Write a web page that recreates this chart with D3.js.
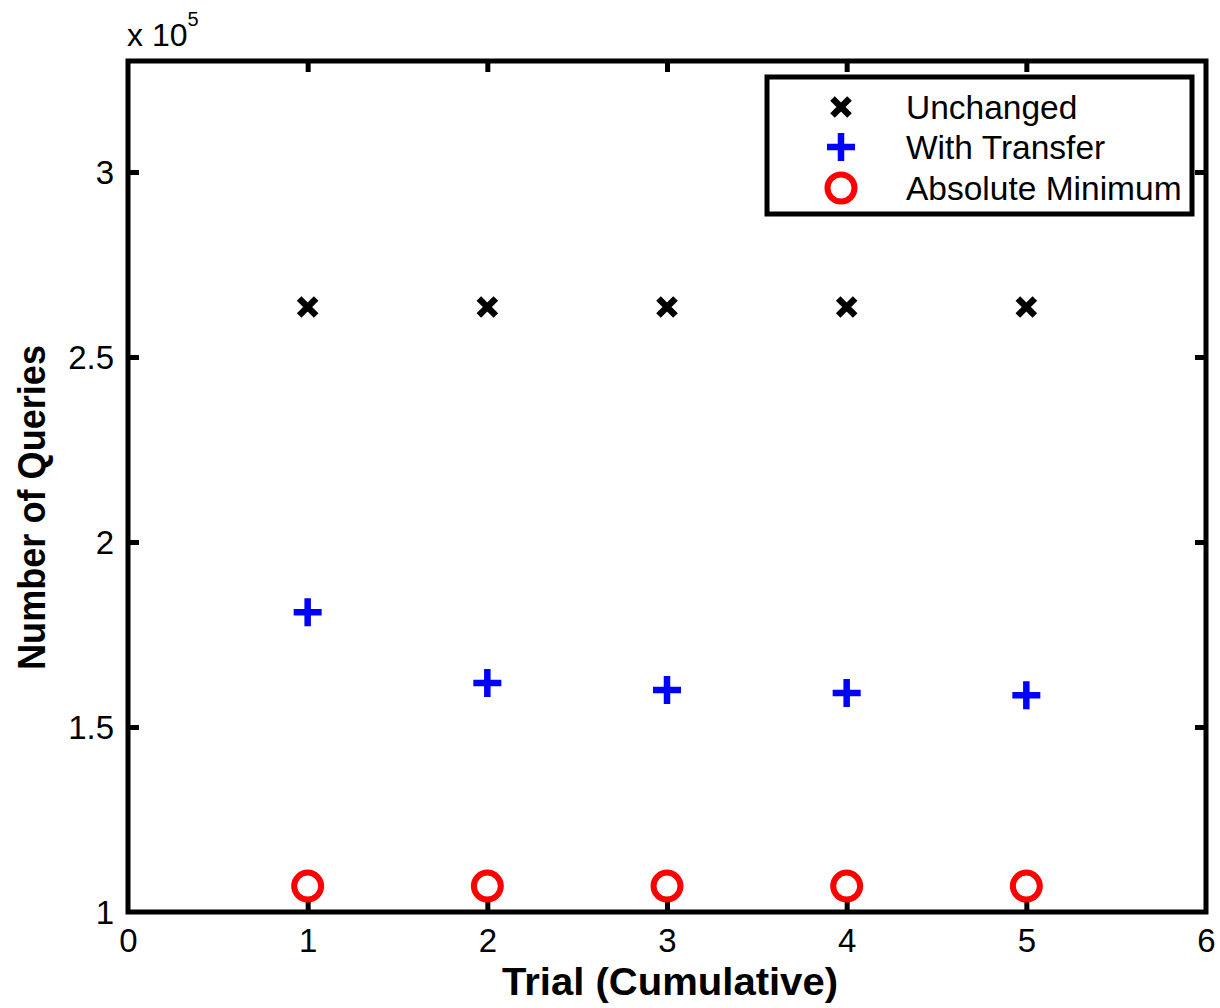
<!DOCTYPE html>
<html lang="en">
<meta charset="utf-8">
<title>Number of Queries</title>
<style>
    body { margin: 0; background: white; }
    text { font-family: "Liberation Sans", Arial, Helvetica, sans-serif; }
</style>
<body>
<svg id="canvas"></svg>
<script src="https://cdn.jsdelivr.net/npm/d3@7/dist/d3.min.js"></script>
<script>

    ///////////////////// data ////////////////////////
    var trials        = [1, 2, 3, 4, 5];
    var unchanged     = [263500, 263500, 263500, 263500, 263500];
    var with_transfer = [181000, 161900, 160000, 159200, 158600];
    var absolute_min  = [107000, 107000, 107000, 107000, 107000];
    var x_ticks       = [0, 1, 2, 3, 4, 5, 6];
    var y_ticks       = [100000, 150000, 200000, 250000, 300000];
    var legend_names  = ["Unchanged", "With Transfer", "Absolute Minimum"];
    ///////////////////////////////////////////////////

    ////////////// dimensions / styles ////////////////
    var width     = 1220, height = 1008;
    var plot_L    = 128, plot_R = 1206;
    var plot_T    = 61,  plot_B = 912;
    var axis_w    = 5;
    var tick_len  = 11;
    var font_size = 33;
    ///////////////////////////////////////////////////

    var svg = d3.select("#canvas")
        .attr('width', width)
        .attr('height', height);

    var x = d3.scaleLinear().domain([0, 6]).range([plot_L, plot_R]);
    var y = d3.scaleLinear().domain([100000, 330000]).range([plot_B, plot_T]);

    //////////////////// axes ////////////////////////
    function style_axis(g) {
        g.attr('font-size', null).attr('font-family', null);
        g.select('.domain').remove();
        g.selectAll('.tick line').attr('stroke', 'black').attr('stroke-width', axis_w);
        g.selectAll('.tick text')
            .attr('font-size', font_size)
            .attr('fill', 'black');
    }

    svg.append('g')
        .attr('transform', 'translate(0,' + plot_B + ')')
        .call(d3.axisBottom(x).tickValues(x_ticks).tickSize(-tick_len).tickPadding(0)
              .tickFormat(d3.format('d')))
        .call(style_axis)
        .selectAll('.tick text').attr('y', 40).attr('dy', null);

    svg.append('g')
        .attr('transform', 'translate(0,' + plot_T + ')')
        .call(d3.axisTop(x).tickValues(x_ticks).tickSize(-tick_len).tickFormat(''))
        .call(style_axis);

    svg.append('g')
        .attr('transform', 'translate(' + plot_L + ',0)')
        .call(d3.axisLeft(y).tickValues(y_ticks).tickSize(-tick_len).tickPadding(14)
              .tickFormat(function (d) { return d3.format('~g')(d / 1e5); }))
        .call(style_axis)
        .selectAll('.tick text').attr('dy', '0.36em');

    svg.append('g')
        .attr('transform', 'translate(' + plot_R + ',0)')
        .call(d3.axisRight(y).tickValues(y_ticks).tickSize(-tick_len).tickFormat(''))
        .call(style_axis);

    // hide ticks sitting on the frame corners
    svg.selectAll('.tick').filter(function (d) { return d === 0 || d === 6 || d === 100000; })
        .select('line').attr('stroke', 'none');

    // frame
    svg.append('rect')
        .attr('x', plot_L).attr('y', plot_T)
        .attr('width', plot_R - plot_L).attr('height', plot_B - plot_T)
        .attr('fill', 'none').attr('stroke', 'black').attr('stroke-width', axis_w);

    // exponent label
    var exp = svg.append('text')
        .attr('x', plot_L - 1).attr('y', 46)
        .attr('font-size', 32);
    exp.append('tspan').text('x 10');
    exp.append('tspan').attr('dy', -20).attr('font-size', 20).text('5');

    // axis titles
    svg.append('text')
        .attr('x', 502).attr('y', 995)
        .attr('textLength', 336).attr('lengthAdjust', 'spacingAndGlyphs')
        .attr('font-size', 38).attr('font-weight', 'bold')
        .text('Trial (Cumulative)');

    svg.append('text')
        .attr('transform', 'translate(45,670) rotate(-90)')
        .attr('textLength', 325).attr('lengthAdjust', 'spacingAndGlyphs')
        .attr('font-size', 39).attr('font-weight', 'bold')
        .text('Number of Queries');
    ///////////////////////////////////////////////////

    ////////////////// markers ////////////////////////
    function draw_x(g, cx, cy) {
        var s = 8.5;
        g.append('path')
            .attr('d', 'M' + (cx - s) + ',' + (cy - s) + 'L' + (cx + s) + ',' + (cy + s) +
                       'M' + (cx - s) + ',' + (cy + s) + 'L' + (cx + s) + ',' + (cy - s))
            .attr('stroke', 'black').attr('stroke-width', 6.5).attr('fill', 'none');
    }
    function draw_plus(g, cx, cy) {
        var s = 14;
        g.append('path')
            .attr('d', 'M' + (cx - s) + ',' + cy + 'L' + (cx + s) + ',' + cy +
                       'M' + cx + ',' + (cy - s) + 'L' + cx + ',' + (cy + s))
            .attr('stroke', '#0000ff').attr('stroke-width', 6.5).attr('fill', 'none');
    }
    function draw_o(g, cx, cy) {
        g.append('circle')
            .attr('cx', cx).attr('cy', cy).attr('r', 13.5)
            .attr('stroke', '#ff0000').attr('stroke-width', 6).attr('fill', 'none');
    }

    var marks = svg.append('g');
    trials.forEach(function (t, i) {
        draw_x(marks, x(t), y(unchanged[i]));
        draw_plus(marks, x(t), y(with_transfer[i]));
        draw_o(marks, x(t), y(absolute_min[i]));
    });
    ///////////////////////////////////////////////////

    ////////////////// legend /////////////////////////
    var legend = svg.append('g');
    legend.append('rect')
        .attr('x', 767).attr('y', 77)
        .attr('width', 425).attr('height', 137)
        .attr('fill', 'white').attr('stroke', 'black').attr('stroke-width', axis_w);

    var drawers = [draw_x, draw_plus, draw_o];
    var row_y   = [107, 147, 188];
    legend_names.forEach(function (name, i) {
        drawers[i](legend, 841, row_y[i]);
        legend.append('text')
            .attr('x', 906).attr('y', row_y[i])
            .attr('dy', '0.36em')
            .attr('font-size', 33.5)
            .text(name);
    });
    ///////////////////////////////////////////////////

</script>
</body>
</html>
